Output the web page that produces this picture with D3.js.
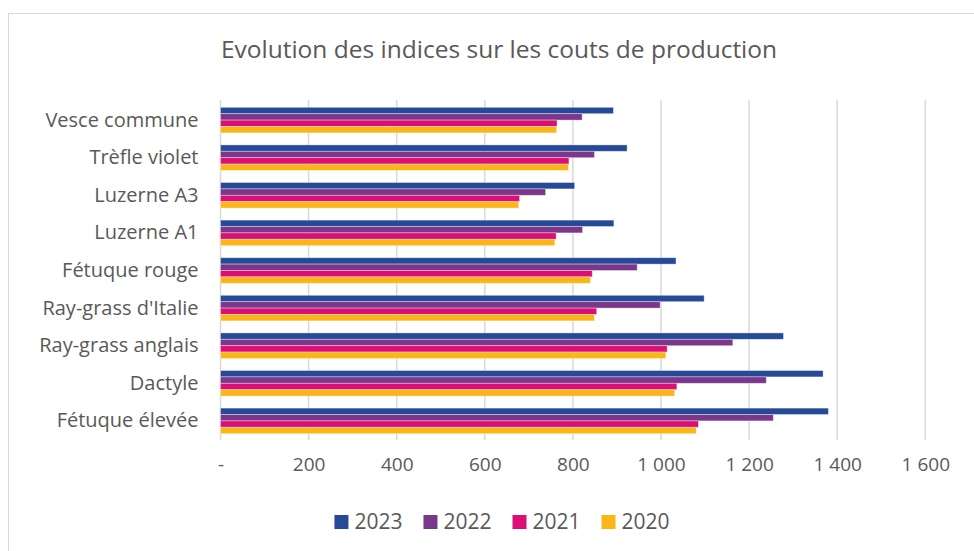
<!DOCTYPE html>
<html>
<head>
<meta charset="utf-8">
<script src="https://cdn.jsdelivr.net/npm/d3@7"></script>
<style>
  body { margin: 0; background: #fff; }
  svg { display: block; font-family: "Open Sans", Lato, sans-serif; }
</style>
</head>
<body>
<svg id="chart" width="974" height="551"></svg>
<script>
// data
const categories = ["Vesce commune", "Trèfle violet", "Luzerne A3", "Luzerne A1", "Fétuque rouge",
  "Ray-grass d'Italie", "Ray-grass anglais", "Dactyle", "Fétuque élevée"];
const years = ["2023", "2022", "2021", "2020"];
const values2023 = [892, 923, 804, 893, 1034, 1098, 1278, 1368, 1380];
const values2022 = [821, 849, 738, 822, 946, 998, 1163, 1239, 1255];
const values2021 = [764, 791, 679, 762, 844, 854, 1014, 1036, 1085];
const values2020 = [763, 790, 677, 759, 840, 849, 1011, 1031, 1080];
const xTicks = [0, 200, 400, 600, 800, 1000, 1200, 1400, 1600];
const colors = ["#264a97", "#7b378a", "#dc0f77", "#fbb516"];

const seriesValues = { "2023": values2023, "2022": values2022, "2021": values2021, "2020": values2020 };
const rows = categories.map((c, i) => ({ cat: c, vals: years.map(y => ({ year: y, v: seriesValues[y][i] })) }));

const svg = d3.select("#chart");
const textColor = "#595959";
const font = "'Open Sans', Lato, sans-serif";

// chart frame
svg.append("rect")
  .attr("x", 8.5).attr("y", 13.5)
  .attr("width", 980).attr("height", 560)
  .attr("fill", "#fff")
  .attr("stroke", "#d9d9d9");

svg.append("text")
  .attr("x", 499).attr("y", 58)
  .attr("text-anchor", "middle")
  .attr("fill", textColor)
  .style("font-size", "24.5px")
  .text("Evolution des indices sur les couts de production");

const x = d3.scaleLinear().domain([0, 1600]).range([220.5, 925.3]);
const y = d3.scaleBand().domain(categories).range([101.3, 439.7])
  .paddingInner(0.32).paddingOuter(0.16);
const yInner = d3.scaleBand().domain(years).range([0, y.bandwidth()]);
const color = d3.scaleOrdinal().domain(years).range(colors);

const fr = d3.formatLocale({ decimal: ",", thousands: " ", grouping: [3], currency: ["", " €"] });
const fmt = d => d === 0 ? "-" : fr.format(",")(d);

// gridlines
svg.append("g")
  .selectAll("line")
  .data(xTicks)
  .join("line")
    .attr("x1", d => x(d)).attr("x2", d => x(d))
    .attr("y1", 100).attr("y2", 440)
    .attr("stroke", "#d9d9d9")
    .attr("stroke-width", 1.5);

// bars
const groups = svg.append("g")
  .selectAll("g")
  .data(rows)
  .join("g")
    .attr("transform", d => `translate(0,${y(d.cat)})`);

groups.selectAll("rect")
  .data(d => d.vals)
  .join("rect")
    .attr("x", x(0))
    .attr("y", d => yInner(d.year))
    .attr("width", d => x(d.v) - x(0))
    .attr("height", yInner.bandwidth())
    .attr("fill", d => color(d.year))
    .attr("stroke", "#fff")
    .attr("stroke-opacity", 0.45)
    .attr("stroke-width", 0.8);

// category labels
const yAxis = d3.axisLeft(y).tickSize(0).tickPadding(22);
svg.append("g")
  .attr("transform", `translate(${x(0)},0)`)
  .call(yAxis)
  .call(g => g.select(".domain").remove())
  .call(g => g.selectAll("text")
    .attr("fill", textColor)
    .style("font-size", "20px")
    .style("font-family", font));

// value axis
const xAxis = d3.axisBottom(x).tickValues(xTicks).tickFormat(fmt).tickSize(0).tickPadding(18);
svg.append("g")
  .attr("transform", "translate(0,440)")
  .call(xAxis)
  .call(g => g.select(".domain").remove())
  .call(g => g.selectAll("text")
    .attr("fill", textColor)
    .style("font-size", "19px")
    .style("font-family", font));

// legend
const legend = svg.append("g");
const items = legend.selectAll("g")
  .data(years)
  .join("g");
items.append("rect")
  .attr("width", 14).attr("height", 14)
  .attr("y", -14)
  .attr("fill", d => color(d));
items.append("text")
  .attr("x", 20)
  .attr("y", 0)
  .attr("fill", textColor)
  .style("font-size", "21px")
  .text(d => d);

let cx = 0;
items.each(function () {
  const w = this.querySelector("text").getComputedTextLength();
  d3.select(this).attr("transform", `translate(${cx},0)`);
  cx += 20 + w + 21;
});
const total = cx - 21;
legend.attr("transform", `translate(${502 - total / 2},529)`);
</script>
</body>
</html>
